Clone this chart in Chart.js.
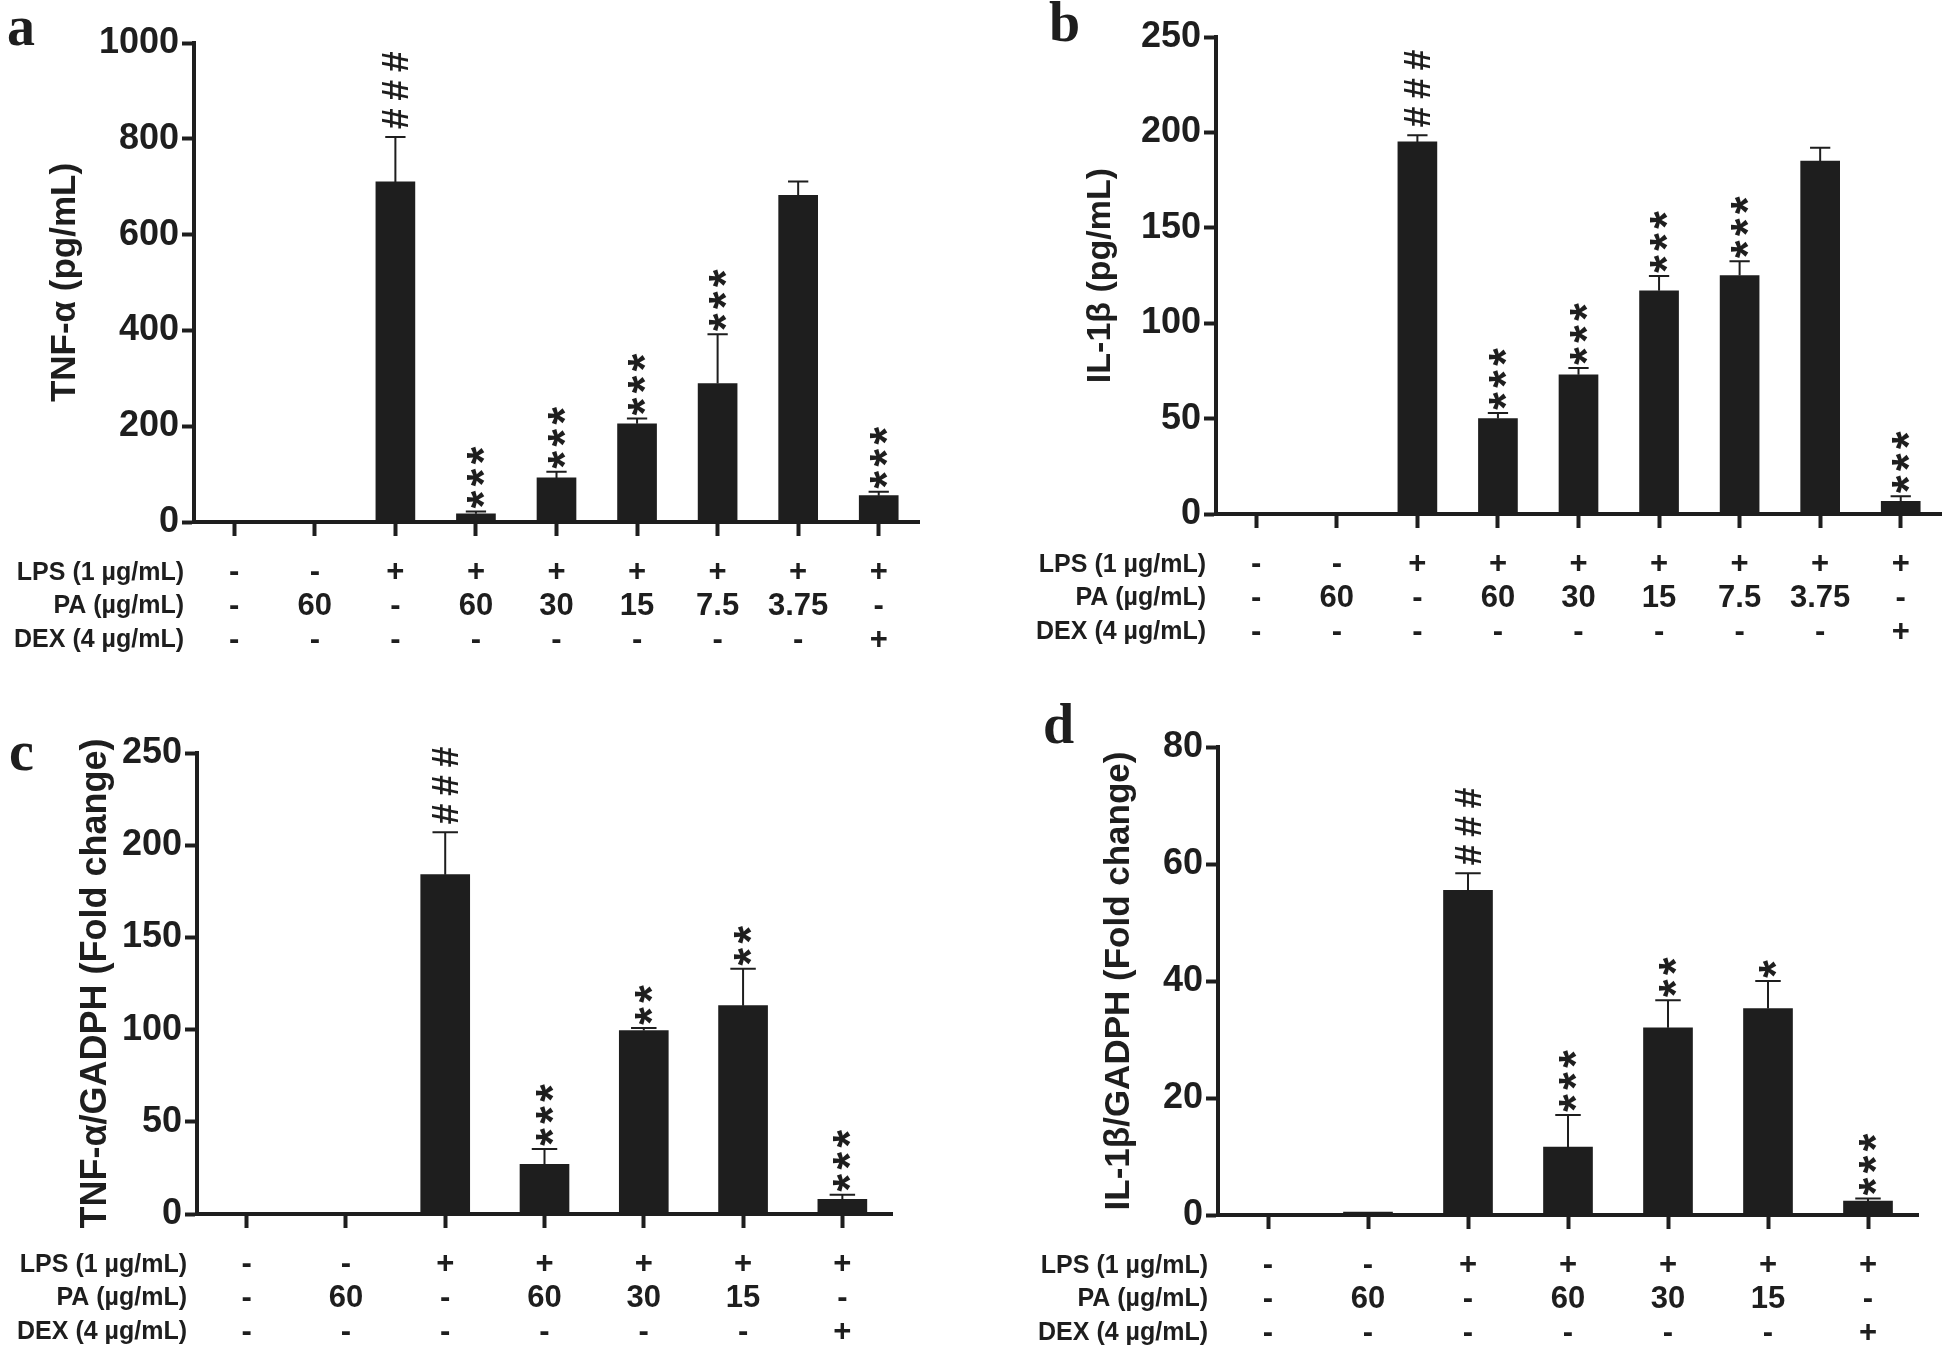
<!DOCTYPE html>
<html>
<head>
<meta charset="utf-8">
<script src="https://cdn.jsdelivr.net/npm/chart.js@4.4.0/dist/chart.umd.min.js"></script>
<style>
  html, body { margin: 0; padding: 0; background: #fff; }
  #wrap { position: relative; width: 1946px; height: 1349px; }
  .panel { position: absolute; }
</style>
</head>
<body>
<div id="wrap">
  <div class="panel" style="left:0;top:0;width:973px;height:674px"><canvas id="chartA"></canvas></div>
  <div class="panel" style="left:973px;top:0;width:973px;height:674px"><canvas id="chartB"></canvas></div>
  <div class="panel" style="left:0;top:674px;width:973px;height:675px"><canvas id="chartC"></canvas></div>
  <div class="panel" style="left:973px;top:674px;width:973px;height:675px"><canvas id="chartD"></canvas></div>
</div>
<script>
// treatment table under the x axis
const rowTitles = ["LPS (1 µg/mL)", "PA (µg/mL)", "DEX (4 µg/mL)"];
const lps9 = ["-", "-", "+", "+", "+", "+", "+", "+", "+"];
const pa9 = ["-", "60", "-", "60", "30", "15", "7.5", "3.75", "-"];
const dex9 = ["-", "-", "-", "-", "-", "-", "-", "-", "+"];
const lps7 = ["-", "-", "+", "+", "+", "+", "+"];
const pa7 = ["-", "60", "-", "60", "30", "15", "-"];
const dex7 = ["-", "-", "-", "-", "-", "-", "+"];

// a: TNF-alpha protein
const tnfProtein = [0, 0, 710, 17, 92, 205, 289, 682, 55];
const tnfProteinErr = [0, 0, 94, 5, 13, 11, 103, 29, 8];
const tnfProteinSig = ["", "", "###", "***", "***", "***", "***", "", "***"];

// b: IL-1beta protein
const il1bProtein = [0, 0, 195, 50, 73, 117, 125, 185, 6.6];
const il1bProteinErr = [0, 0, 3.5, 3, 3.5, 7.7, 7.5, 7, 2.7];
const il1bProteinSig = ["", "", "###", "***", "***", "***", "***", "", "***"];

// c: TNF-alpha mRNA
const tnfMrna = [0, 0, 184, 27, 99.5, 113, 8];
const tnfMrnaErr = [0, 0, 23, 8.3, 1.4, 20, 2.5];
const tnfMrnaSig = ["", "", "###", "***", "**", "**", "***"];

// d: IL-1beta mRNA
const il1bMrna = [0, 0.5, 55.5, 11.6, 32, 35.3, 2.4];
const il1bMrnaErr = [0, 0, 2.9, 5.5, 4.7, 4.7, 0.4];
const il1bMrnaSig = ["", "", "###", "***", "**", "*", "***"];

const ink = "#1e1e1e";
Chart.defaults.font.family = "'Liberation Sans', Arial, sans-serif";
Chart.defaults.color = ink;

const TICK_LEN = 14;
const TICK_PAD = 20;
const ROW_LH = 33.6;
const TABLE_SIZE = 31;

function drawGlyph(ctx, ch, cx, cy, font) {
  ctx.save();
  ctx.font = font;
  ctx.textAlign = "left";
  ctx.textBaseline = "alphabetic";
  const m = ctx.measureText(ch);
  const dx = (m.actualBoundingBoxRight - m.actualBoundingBoxLeft) / 2;
  const dy = (m.actualBoundingBoxDescent - m.actualBoundingBoxAscent) / 2;
  ctx.translate(cx, cy);
  ctx.rotate(-Math.PI / 2);
  ctx.fillText(ch, -dx, -dy);
  ctx.restore();
}

// error bars, significance marks, row titles and panel letter
const extras = {
  id: "extras",
  afterDatasetsDraw(chart, args, opts) {
    const ctx = chart.ctx;
    const y = chart.scales.y;
    const bars = chart.getDatasetMeta(0).data;
    const vals = chart.data.datasets[0].data;
    ctx.save();
    ctx.strokeStyle = ink;
    ctx.fillStyle = ink;
    ctx.lineWidth = 2;
    bars.forEach((bar, i) => {
      const err = opts.err[i];
      const topPx = y.getPixelForValue(vals[i] + err);
      if (err > 0) {
        const cap = opts.cap / 2;
        ctx.beginPath();
        ctx.moveTo(bar.x, y.getPixelForValue(vals[i]));
        ctx.lineTo(bar.x, topPx);
        ctx.moveTo(bar.x - cap, topPx);
        ctx.lineTo(bar.x + cap, topPx);
        ctx.stroke();
      }
      const sig = opts.sig[i];
      for (let k = 0; k < sig.length; k++) {
        if (sig[k] === "#") {
          drawGlyph(ctx, "#", bar.x, topPx - 18 - k * 28.5, "bold 37px 'Liberation Sans'");
        } else {
          drawGlyph(ctx, "*", bar.x, topPx - 12 - k * 22, "bold 46px 'Liberation Sans'");
        }
      }
    });
    ctx.restore();
  },
  afterDraw(chart, args, opts) {
    const ctx = chart.ctx;
    const x = chart.scales.x;
    ctx.save();
    ctx.fillStyle = ink;
    ctx.font = "bold 25px 'Liberation Sans'";
    ctx.textAlign = "right";
    ctx.textBaseline = "middle";
    rowTitles.forEach((t, i) => {
      ctx.fillText(t, chart.chartArea.left - 10, x.top + TICK_LEN + TICK_PAD + ROW_LH / 2 + i * ROW_LH);
    });
    ctx.font = "bold 56px 'Liberation Serif'";
    ctx.textAlign = "left";
    ctx.textBaseline = "alphabetic";
    ctx.fillText(opts.letter, opts.letterX, opts.letterY);
    ctx.restore();
  }
};

function makePanel(p) {
  const labels = p.lps.map((v, i) => [v, p.pa[i], p.dex[i]]);
  return new Chart(document.getElementById(p.id), {
    type: "bar",
    data: {
      labels: labels,
      datasets: [{
        data: p.values,
        backgroundColor: ink,
        borderWidth: 0,
        barThickness: p.barThickness
      }]
    },
    options: {
      responsive: true,
      maintainAspectRatio: false,
      animation: false,
      layout: { padding: { left: 0, top: p.area.top, right: p.w - p.area.right, bottom: 0 } },
      plugins: {
        legend: { display: false },
        tooltip: { enabled: false },
        extras: { err: p.err, sig: p.sig, cap: p.barThickness * 0.52, letter: p.letter, letterX: p.letterX, letterY: p.letterY }
      },
      scales: {
        x: {
          afterFit: (s) => { s.height = p.h - p.area.bottom; },
          border: { display: true, width: 4, color: ink },
          grid: { drawOnChartArea: false, offset: false, tickLength: TICK_LEN, tickWidth: 4, tickColor: ink },
          ticks: {
            autoSkip: false, maxRotation: 0, padding: TICK_PAD, color: ink,
            font: { family: "'Liberation Sans Narrow', 'Liberation Sans'", size: TABLE_SIZE, weight: "bold", lineHeight: ROW_LH / TABLE_SIZE }
          }
        },
        y: {
          min: 0,
          max: p.yMax,
          afterFit: (s) => { s.width = p.area.left; },
          border: { display: true, width: 4, color: ink },
          grid: { drawOnChartArea: false, tickLength: 12, tickWidth: 4, tickColor: ink },
          ticks: { stepSize: p.step, padding: 3, color: ink, font: { size: 36, weight: "bold" }, callback: (v) => String(v) },
          title: {
            display: true, text: p.title, color: ink,
            font: { size: p.titleSize, weight: "bold" },
            padding: { top: p.titleCenter - p.titleSize * 0.6, bottom: 0 }
          }
        }
      }
    },
    plugins: [extras]
  });
}

makePanel({
  id: "chartA", letter: "a", letterX: 7, letterY: 45, w: 973, h: 674,
  area: { left: 194, right: 919, top: 43, bottom: 522 },
  lps: lps9, pa: pa9, dex: dex9,
  values: tnfProtein, err: tnfProteinErr, sig: tnfProteinSig,
  yMax: 1000, step: 200, title: "TNF-α (pg/mL)", titleSize: 35, titleCenter: 65, barThickness: 39
});
makePanel({
  id: "chartB", letter: "b", letterX: 76, letterY: 41, w: 973, h: 674,
  area: { left: 243, right: 968, top: 37, bottom: 514 },
  lps: lps9, pa: pa9, dex: dex9,
  values: il1bProtein, err: il1bProteinErr, sig: il1bProteinSig,
  yMax: 250, step: 50, title: "IL-1β (pg/mL)", titleSize: 34, titleCenter: 128, barThickness: 39
});
makePanel({
  id: "chartC", letter: "c", letterX: 9, letterY: 96, w: 973, h: 675,
  area: { left: 197, right: 892, top: 79, bottom: 540 },
  lps: lps7, pa: pa7, dex: dex7,
  values: tnfMrna, err: tnfMrnaErr, sig: tnfMrnaSig,
  yMax: 250, step: 50, title: "TNF-α/GADPH (Fold change)", titleSize: 36, titleCenter: 96, barThickness: 49
});
makePanel({
  id: "chartD", letter: "d", letterX: 70, letterY: 69, w: 973, h: 675,
  area: { left: 245, right: 945, top: 73, bottom: 541 },
  lps: lps7, pa: pa7, dex: dex7,
  values: il1bMrna, err: il1bMrnaErr, sig: il1bMrnaSig,
  yMax: 80, step: 20, title: "IL-1β/GADPH (Fold change)", titleSize: 35, titleCenter: 146, barThickness: 49
});
</script>
</body>
</html>
